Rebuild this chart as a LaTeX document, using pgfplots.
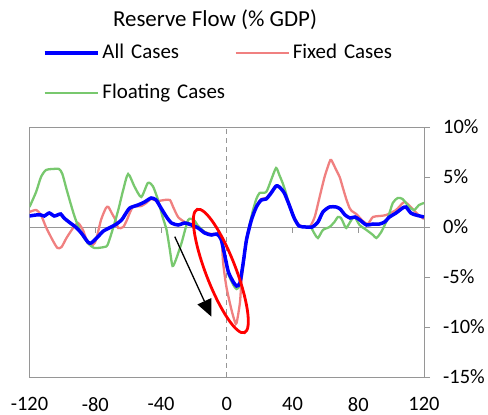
\documentclass[border=0pt]{standalone}
\usepackage{fontspec}
\setmainfont{Carlito}
\usepackage{pgfplots}
\pgfplotsset{compat=1.18}
\usetikzlibrary{arrows.meta,shapes.geometric}
\definecolor{fixc}{RGB}{240,128,128}
\definecolor{floc}{RGB}{120,200,110}
\definecolor{axgray}{RGB}{150,150,150}
\begin{document}
\begin{tikzpicture}
\useasboundingbox (0,0) rectangle (488bp,415bp);
\begin{axis}[
  at={(29.5bp,38bp)}, anchor=south west,
  scale only axis, width=394.5bp, height=250bp,
  xmin=-120, xmax=120, ymin=-15, ymax=10,
  axis line style={axgray, line width=0.8bp},
  xtick={-120,-80,-40,0,40,80,120},
  xticklabels={-120,-80,-40,0,40,80,120},
  x tick style={draw=none},
  ytick={-15,-10,-5,0,5,10},
  yticklabels={-15\%,-10\%,-5\%,0\%,5\%,10\%},
  ytick pos=right, yticklabel pos=right,
  y tick style={axgray, line width=0.8bp},
  tick align=outside, major tick length=6bp,
  ticklabel style={font=\fontsize{20.5}{24}\selectfont},
  xticklabel style={inner sep=0pt, anchor=north, yshift=-14bp},
  yticklabel style={inner sep=0pt, anchor=west, xshift=13bp},
  legend columns=2,
  legend cell align=left,
  legend style={draw=none, fill=none, at={(axis description cs:0.0342,1.332)}, anchor=north west,
    inner sep=0pt, outer sep=0pt, column sep=3bp, row sep=22bp,
    nodes={inner sep=0pt, text height=14bp, text depth=4bp, text width=130bp, align=left, font=\fontsize{21}{25}\selectfont},
    /tikz/every even column/.append style={column sep=2bp}},
  legend image code/.code={\draw[#1] (0bp,0bp) -- (53bp,0bp);},
]
\addlegendimage{blue, line width=3.5bp}\addlegendentry{All Cases}
\addlegendimage{fixc, line width=2.3bp}\addlegendentry{Fixed Cases}
\addlegendimage{floc, line width=2.3bp}\addlegendentry{Floating Cases}

\draw[axgray, line width=0.8bp] (axis cs:-120,0) -- (axis cs:120,0);
\pgfplotsinvokeforeach{-80,-40,40,80}{\draw[axgray, line width=0.8bp] (axis cs:#1,0) -- ++(0bp,-6bp);}
\draw[axgray, line width=0.9bp, dash pattern=on 5bp off 4bp] (axis cs:0,-15) -- (axis cs:0,10);

\addplot[fixc, line width=2.3bp, smooth, tension=0.4, forget plot] coordinates {
(-120,1.5) (-116,1.7) (-113,1.2) (-110,0.0) (-106,-1.3) (-103,-2.1) (-100.5,-2.0) (-97.5,-1.1) (-93.5,-0.1) (-90.5,0.4) (-87.5,-0.3) (-84.5,-1.6) (-81.5,-1.8) (-79.5,-1.3) (-76.5,0.7) (-73.5,1.9) (-72,2.0) (-70,1.4) (-68,0.8) (-66,-0.1) (-63,0.0) (-61,0.6) (-59,1.4) (-57,2.0) (-52,2.1) (-49,2.4) (-46,2.8) (-42,2.6) (-38,2.7) (-34.6,2.7) (-32.6,2.0) (-29.6,1.0) (-25.5,0.5) (-21.4,0.3) (-17.4,0.0) (-13.4,-0.5) (-9.3,-0.7) (-6,-0.7) (-3.2,-1.3) (-2.2,-3.6) (-0.2,-6.0) (2.9,-8.3) (5,-9.5) (6,-9.6) (8,-7.6) (9,-5.3) (10,-3.9) (12,-1.2) (15,0.8) (18,2.1) (21,2.8) (24,2.9) (27,3.5) (30,4.0) (32,4.0) (35,3.5) (38,2.3) (41,1.0) (44,0.2) (48,0.0) (50.5,0.0) (53.5,1.0) (56.5,3.0) (59.5,5.0) (62.5,6.5) (63.6,6.7) (66.6,5.7) (68.7,5.0) (70.5,4.0) (72.7,2.8) (74.7,1.9) (76,1.6) (78.8,1.3) (82.8,0.6) (85.8,0.3) (88.9,1.0) (93,1.1) (97,1.2) (103,1.7) (108,2.5) (112,2.0) (116,1.3) (120,0.8)
};
\addplot[floc, line width=2.3bp, smooth, tension=0.4, forget plot] coordinates {
(-120,2.0) (-116,3.5) (-113,5.0) (-110,5.7) (-106,5.8) (-102,5.8) (-100,5.3) (-97,3.5) (-92.5,1.0) (-88.5,-0.6) (-84.5,-1.6) (-80.5,-2.1) (-74.5,-2.0) (-72.5,-1.8) (-69.5,-0.3) (-66,1.7) (-63,3.7) (-60,5.3) (-56,4.0) (-52,3.0) (-48,4.4) (-45,4.1) (-42,2.8) (-39,1.0) (-36.6,-0.3) (-34.6,-2.3) (-33,-3.9) (-31,-3.3) (-27.5,-1.6) (-23.5,0.7) (-20,0.7) (-17.4,0.1) (-13.4,-0.5) (-9.3,-0.8) (-6,-0.7) (-3.5,-1.2) (-2,-2.3) (-1,-3.1) (1,-4.7) (4,-5.8) (6,-6.2) (8,-5.8) (10,-3.7) (12,-1.3) (14,0.3) (16,1.7) (18,2.8) (20,3.4) (24,3.5) (27,4.7) (30,5.9) (32,5.2) (34,4.4) (36,3.4) (38,2.2) (41,0.9) (44,0.1) (48,0.0) (51,0.0) (53.5,-0.7) (55.5,-1.1) (58.5,-0.3) (62.5,0.0) (65.5,0.5) (67.6,1.0) (69.5,0.9) (71,0.4) (72.7,-0.1) (75.8,0.7) (77.8,1.0) (80.8,0.2) (85,-0.3) (89,-0.8) (91,-1.1) (94,-0.5) (98,0.9) (101,2.4) (104,2.9) (107,2.8) (111,2.0) (114,1.7) (117,2.2) (120,2.4)
};
\addplot[blue, line width=3.5bp, smooth, tension=0.4, forget plot] coordinates {
(-120,1.1) (-116,1.2) (-113,1.2) (-111,1.1) (-108,1.4) (-105,1.1) (-103,1.2) (-101,1.3) (-99,0.9) (-96,0.5) (-92,0.0) (-88.5,-0.6) (-84.5,-1.5) (-82.5,-1.6) (-78.5,-1.0) (-75,-0.4) (-68,0.2) (-64,0.7) (-62,1.2) (-59,1.9) (-54,2.2) (-50,2.5) (-46,2.9) (-43,2.7) (-40,1.9) (-36.6,1.0) (-33.6,0.4) (-29.6,0.2) (-25.5,0.4) (-21.4,0.2) (-17.4,-0.1) (-13.4,-0.6) (-9.3,-0.8) (-6,-0.7) (-3.5,-1.2) (-2,-2.2) (-1,-3.0) (1,-4.5) (4,-5.5) (6,-5.9) (8,-5.6) (10,-3.6) (12,-1.3) (15,0.7) (18,2.0) (21,2.7) (24,2.8) (27,3.4) (30,4.1) (32,4.0) (35,3.4) (38,2.2) (41,0.9) (44,0.1) (48,0.0) (52,0.0) (55.5,0.5) (58.5,1.5) (62.5,2.0) (66.5,2.0) (69,1.8) (72,1.2) (75,0.9) (78,1.0) (81,0.7) (85,0.2) (89,0.3) (93,0.3) (96,0.5) (99,1.0) (103,1.4) (107,1.9) (109,2.0) (112,1.4) (115,1.2) (120,1.0)
};
\draw[black, line width=1.3bp, -{Triangle[length=17bp,width=15bp]}] (axis cs:-31.6,-0.97) -- (axis cs:-9.3,-8.97);
\node[draw=red, line width=2.8bp, ellipse, minimum width=132bp, minimum height=30bp, inner sep=0pt, rotate=-69] at (axis cs:-3.6,-4.4) {};
\end{axis}
\node[font=\fontsize{23}{27}\selectfont, anchor=base] at (215bp,388.3bp) {Reserve Flow (\% GDP)};
\end{tikzpicture}
\end{document}
